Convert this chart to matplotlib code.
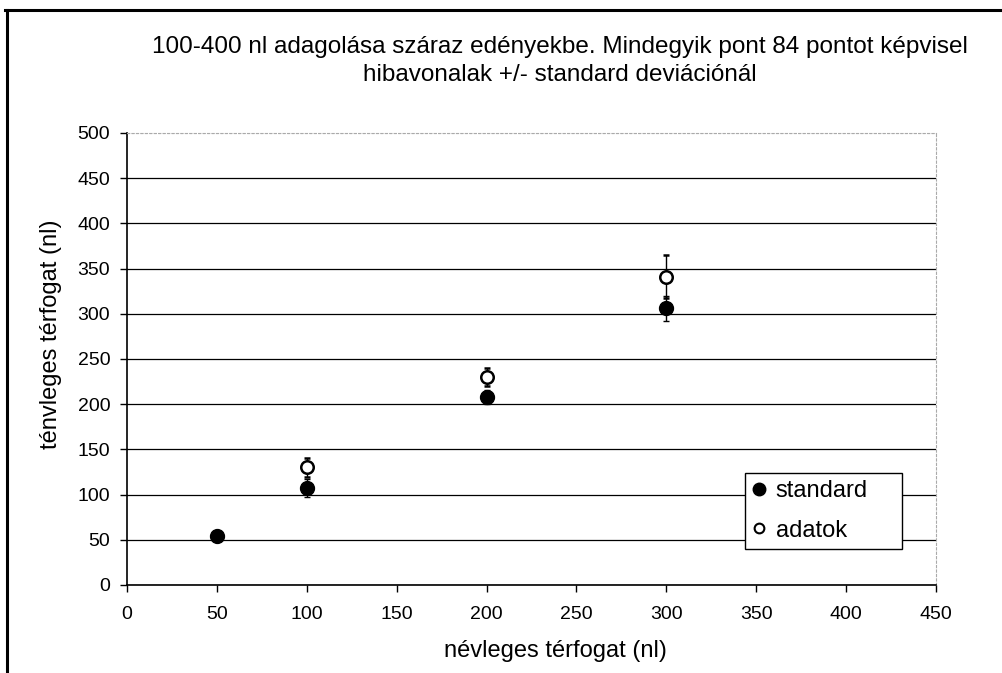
import matplotlib.pyplot as plt
from matplotlib.lines import Line2D

# adatok a grafikonról
x_std = [50, 100, 200, 300]
y_std = [54, 107, 208, 306]
err_std = [0, 10, 8, 14]

x_dat = [100, 200, 300]
y_dat = [130, 230, 341]
err_dat = [11, 10, 24]

xticks = list(range(0, 451, 50))
yticks = list(range(0, 501, 50))

plt.rcParams['font.family'] = ['Liberation Sans', 'DejaVu Sans']

fig = plt.figure(figsize=(10.03, 6.73), dpi=100)
ax = fig.add_axes([0.1266, 0.1308, 0.8066, 0.6716])

# rácsvonalak
for y in yticks[:-1]:
    ax.axhline(y, color='black', lw=0.9, zorder=1)
ax.axhline(500, color='#999999', lw=0.8, ls=(0, (2, 2)), zorder=1)

ax.errorbar(x_std, y_std, yerr=err_std, fmt='o', color='black', ms=10,
            elinewidth=1.0, capsize=2.5, capthick=1.0, zorder=3, label='standard')
ax.errorbar(x_dat, y_dat, yerr=err_dat, fmt='o', mfc='white', mec='black', mew=1.8,
            color='black', ms=9, elinewidth=1.0, capsize=2.5, capthick=1.0, zorder=4,
            label='adatok')

ax.set_xlim(0, 450)
ax.set_ylim(0, 500)
ax.set_xticks(xticks)
ax.set_yticks(yticks)
ax.set_xticklabels([str(v) for v in xticks], fontsize=14)
ax.set_yticklabels([str(v) for v in yticks], fontsize=14)
ax.tick_params(direction='out', length=5, width=1)
ax.tick_params(axis='x', pad=10)
ax.tick_params(axis='y', pad=7)

for s in ['left', 'bottom']:
    ax.spines[s].set_linewidth(1.2)
for s in ['top', 'right']:
    ax.spines[s].set_color('#aaaaaa')
    ax.spines[s].set_linestyle((0, (2, 2)))
    ax.spines[s].set_linewidth(0.8)

ax.set_xlabel('névleges térfogat (nl)', fontsize=17)
ax.set_ylabel('ténvleges térfogat (nl)', fontsize=17)
ax.xaxis.set_label_coords(0.529, -0.122)
ax.yaxis.set_label_coords(-0.080, 0.555)

h1 = Line2D([], [], marker='o', color='black', ls='none', ms=9)
h2 = Line2D([], [], marker='o', mfc='white', mec='black', mew=1.5, ls='none', ms=7)
leg = ax.legend([h1, h2], ['standard', 'adatok'], loc='upper left',
                bbox_to_anchor=(0.764, 0.073, 0.194, 0.175), mode='expand',
                borderaxespad=0, fontsize=17, handlelength=0.6, handletextpad=0.4,
                labelspacing=0.75, borderpad=0.3, fancybox=False, framealpha=1,
                edgecolor='black')
leg.get_frame().set_linewidth(1.0)

fig.text(0.558, 0.910, '100-400 nl adagolása száraz edényekbe. Mindegyik pont 84 pontot képvisel\n'
         'hibavonalak +/- standard deviációnál', ha='center', va='center',
         fontsize=17.5, linespacing=1.35)

# külső keret
fig.add_artist(Line2D([0.005, 1.0], [1 - 10 / 673, 1 - 10 / 673], color='black', lw=2.2,
                      transform=fig.transFigure))
fig.add_artist(Line2D([7 / 1003, 7 / 1003], [0, 1 - 10 / 673], color='black', lw=2.2,
                      transform=fig.transFigure))

fig.savefig('out.png', dpi=100)
